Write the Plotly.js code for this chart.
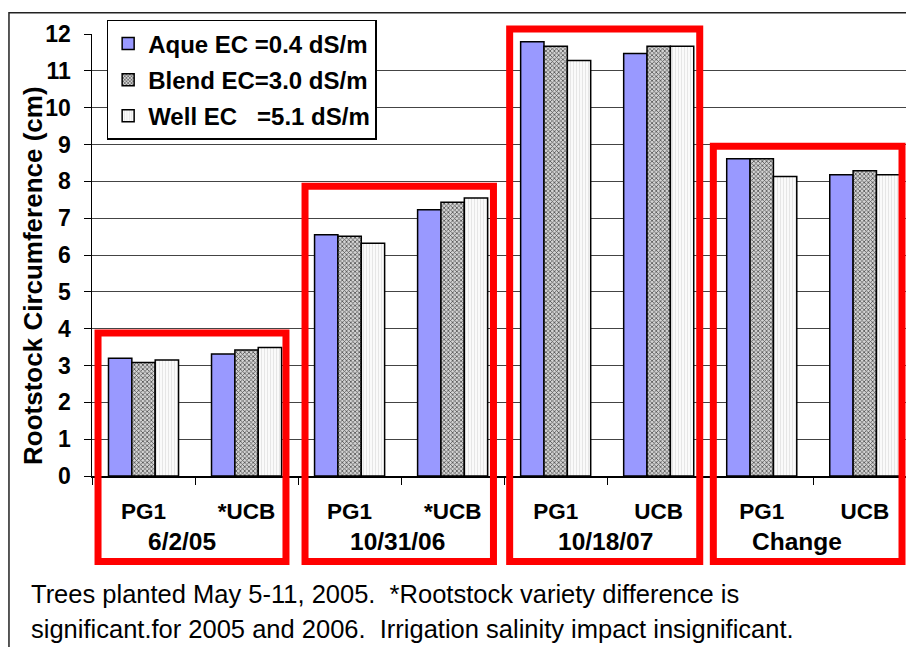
<!DOCTYPE html>
<html>
<head>
<meta charset="utf-8">
<script src="https://cdn.plot.ly/plotly-3.0.1.min.js"></script>
<style>html,body{margin:0;padding:0;background:#fff;}#chart{width:906px;height:647px;}</style>
</head>
<body>
<div id="chart"></div>
<script>
// ---- data ----
const categoryIds = ['PG1 6/2/05', 'UCB 6/2/05', 'PG1 10/31/06', 'UCB 10/31/06', 'PG1 10/18/07', 'UCB 10/18/07', 'PG1 Change', 'UCB Change'];
const varietyLabels = ['PG1', '*UCB', 'PG1', '*UCB', 'PG1', 'UCB', 'PG1', 'UCB'];
const groupLabels = ['6/2/05', '10/31/06', '10/18/07', 'Change'];
const seriesNames = ['Aque EC =0.4 dS/m', 'Blend EC=3.0 dS/m', 'Well EC\u00a0\u00a0\u00a0=5.1 dS/m'];
const aqueValues  = [3.20, 3.31, 6.55, 7.23, 11.79, 11.47, 8.61, 8.18];
const blendValues = [3.08, 3.42, 6.51, 7.43, 11.67, 11.67, 8.61, 8.29];
const wellValues  = [3.15, 3.49, 6.32, 7.55, 11.28, 11.67, 8.13, 8.18];
const yTitle = 'Rootstock Circumference (cm)';
const captionLines = [
  'Trees planted May 5-11, 2005.\u00a0 *Rootstock variety difference is',
  'significant.for 2005 and 2006.\u00a0 Irrigation salinity impact insignificant.'
];

const FONT = 'Liberation Sans, Arial, sans-serif';

const traces = [
  {
    type: 'bar', name: seriesNames[0], x: categoryIds, y: aqueValues, legendgroup: 'a',
    marker: {color: '#9999ff', line: {color: '#000', width: 1.5}}
  },
  {
    type: 'bar', name: seriesNames[1], x: categoryIds, y: blendValues, legendgroup: 'b',
    marker: {color: '#a0a0a0', line: {color: '#000', width: 1.5},
      pattern: {shape: 'x', size: 3, solidity: 0.45, fgcolor: '#505050', bgcolor: '#d4d4d4'}}
  },
  {
    type: 'bar', name: seriesNames[2], x: categoryIds, y: wellValues, legendgroup: 'c',
    marker: {color: '#f6f6f6', line: {color: '#000', width: 1.5},
      pattern: {shape: '|', size: 3, solidity: 0.3, fgcolor: '#e4e4e4', bgcolor: '#fafafa'}}
  }
];

// red boxes around each date group (paper coordinates)
const boxes = [
  {x0: 0.0074, x1: 0.2383, y1: 0.3235},
  {x0: 0.2617, x1: 0.4932, y1: 0.6554},
  {x0: 0.5131, x1: 0.7466, y1: 1.0113},
  {x0: 0.7633, x1: 0.9951, y1: 0.7459}
];
const shapes = boxes.map(b => ({
  type: 'rect', xref: 'paper', yref: 'paper', x0: b.x0, x1: b.x1, y0: -0.1934, y1: b.y1,
  line: {color: '#ff0000', width: 7}, fillcolor: 'rgba(0,0,0,0)', layer: 'above'
}));
// outer frame
shapes.push({
  type: 'rect', xref: 'paper', yref: 'paper', x0: -0.102, x1: 1.05, y0: -0.5, y1: 1.048,
  line: {color: '#222', width: 1.5}, fillcolor: 'rgba(0,0,0,0)', layer: 'below'
});

const groupLabelX = [0.1106, 0.3747, 0.6314, 0.8661];
const annotations = groupLabels.map((g, i) => ({
  text: g, xref: 'paper', yref: 'paper', x: groupLabelX[i], y: -0.149,
  xanchor: 'center', yanchor: 'middle', showarrow: false,
  font: {family: FONT, size: 24.5, color: '#000', weight: 'bold'}
}));
captionLines.forEach((t, i) => {
  annotations.push({
    text: t, xref: 'paper', yref: 'paper', x: -0.077, y: (476 - (594 + 35 * i)) / 442,
    xanchor: 'left', yanchor: 'middle', showarrow: false,
    font: {family: FONT, size: 25.5, color: '#000'}
  });
});
// y axis title
annotations.push({
  text: yTitle, xref: 'paper', yref: 'paper', x: -0.0725, y: 0.4548, textangle: -90,
  xanchor: 'center', yanchor: 'middle', showarrow: false,
  font: {family: FONT, size: 26, color: '#000', weight: 'bold'}
});

const layout = {
  width: 906, height: 647,
  margin: {l: 92, r: 0, t: 34, b: 171},
  paper_bgcolor: '#fff', plot_bgcolor: '#fff',
  font: {family: FONT, color: '#000'},
  barmode: 'group', bargap: 0.32, bargroupgap: 0,
  showlegend: true,
  legend: {
    x: 0.018, y: 1.032, xanchor: 'left', yanchor: 'top',
    bgcolor: '#fff', bordercolor: '#000', borderwidth: 1.5,
    font: {family: FONT, size: 24, color: '#000', weight: 'bold'},
    itemwidth: 30, traceorder: 'grouped', tracegroupgap: 2
  },
  xaxis: {
    type: 'category', range: [-0.5, 7.4], fixedrange: true,
    tickmode: 'array', tickvals: categoryIds, ticktext: varietyLabels,
    tickson: 'boundaries', ticks: 'outside', ticklen: 7, tickcolor: '#000', tickwidth: 1,
    showline: true, linecolor: '#000', linewidth: 1.5, showgrid: false,
    ticklabelstandoff: 14,
    tickfont: {family: FONT, size: 22.5, color: '#000', weight: 'bold'}
  },
  yaxis: {
    range: [0, 12], dtick: 1, tick0: 0, fixedrange: true,
    ticks: 'outside', ticklen: 7, tickcolor: '#000', tickwidth: 1,
    showline: true, linecolor: '#000', linewidth: 1.5,
    showgrid: true, gridcolor: '#444', gridwidth: 1, zeroline: false,
    ticklabelstandoff: 8,
    tickfont: {family: FONT, size: 23, color: '#000', weight: 'bold'}
  },
  shapes: shapes,
  annotations: annotations
};

Plotly.newPlot('chart', traces, layout, {displayModeBar: false, staticPlot: true});
</script>
</body>
</html>
